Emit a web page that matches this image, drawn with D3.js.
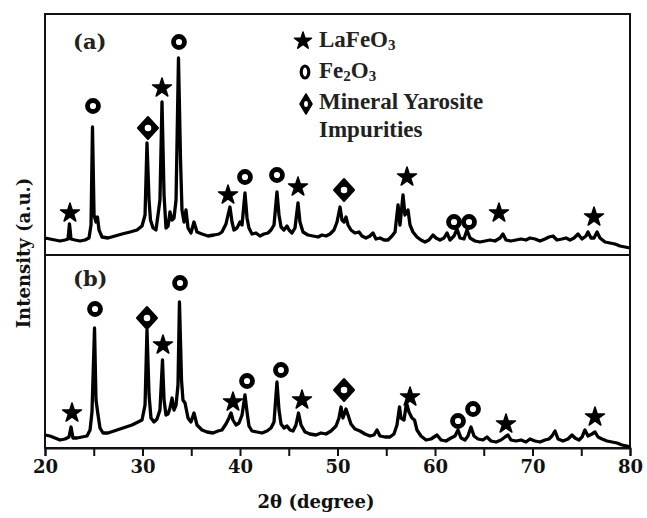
<!DOCTYPE html>
<html>
<head>
<meta charset="utf-8">
<script src="https://cdn.jsdelivr.net/npm/d3@7"></script>
<style>
  body { margin: 0; background: #fff; }
  .tick text { font-family: "DejaVu Serif", serif; font-weight: bold; font-size: 18px; }
</style>
</head>
<body>
<svg class="xrd" width="647" height="518"></svg>
<script>
// 2theta (degree) and intensity (a.u.)
const thetaA = [20.00,20.51,21.03,21.54,22.05,22.36,22.51,22.67,23.08,23.59,24.10,24.51,24.72,24.87,25.03,25.23,25.38,25.54,25.85,26.46,
  27.18,27.90,28.72,29.44,29.95,30.26,30.46,30.67,30.82,31.08,31.38,31.59,31.79,32.00,32.21,32.41,32.62,32.82,33.03,33.23,
  33.44,33.69,33.90,34.05,34.26,34.46,34.67,34.97,35.28,35.59,36.10,36.72,37.33,37.85,38.15,38.56,38.77,38.97,39.18,39.38,
  39.69,40.00,40.21,40.51,40.72,40.92,41.23,41.64,42.05,42.46,42.87,43.18,43.49,43.79,44.00,44.21,44.51,44.82,45.03,45.33,
  45.64,45.95,46.15,46.46,46.97,47.49,48.00,48.41,48.82,49.23,49.64,49.95,50.26,50.46,50.67,50.87,51.08,51.38,51.79,52.21,
  52.51,52.92,53.33,53.64,53.95,54.36,54.77,55.18,55.59,55.90,56.21,56.41,56.72,56.92,57.23,57.44,57.74,58.15,58.56,58.97,
  59.38,59.79,60.10,60.51,60.92,61.23,61.54,61.95,62.26,62.56,62.97,63.28,63.59,64.10,64.62,65.13,65.64,66.15,66.67,66.97,
  67.28,67.79,68.31,68.82,69.33,69.74,70.26,70.77,71.28,71.69,72.10,72.51,73.03,73.44,73.85,74.26,74.67,75.08,75.49,75.69,
  76.00,76.31,76.62,76.92,77.44,77.95,78.46,78.97,79.49,80.00];
const intA = [17,16,15,14,15,16,31,16,15,14,15,17,30,128,40,33,38,25,18,17,
  19,21,23,25,29,40,112,55,35,27,25,40,55,153,60,27,29,43,35,37,
  55,197,95,45,33,45,27,22,33,23,21,19,20,21,23,31,40,48,33,25,
  27,33,30,62,37,27,21,22,19,21,22,25,30,63,40,28,25,29,25,22,
  27,52,33,23,20,19,18,20,19,21,25,33,48,35,33,38,30,25,22,23,
  19,17,19,22,16,17,15,15,19,23,50,30,60,40,45,30,23,18,15,13,
  15,20,17,15,17,22,15,19,26,17,16,25,17,14,13,14,15,14,17,21,
  15,14,15,16,15,17,16,14,16,18,19,15,16,17,15,17,21,16,19,23,
  17,17,23,17,13,12,11,9,8,7];

const thetaB = [20.00,20.51,21.03,21.54,22.05,22.46,22.67,22.87,23.28,23.79,24.31,24.62,24.82,25.08,25.23,25.44,25.64,25.95,26.46,27.08,
  27.69,28.31,28.92,29.54,29.95,30.26,30.46,30.67,30.87,31.18,31.49,31.79,32.05,32.21,32.41,32.62,32.82,33.03,33.23,33.44,
  33.64,33.79,34.00,34.15,34.36,34.67,34.97,35.28,35.59,36.10,36.62,37.23,37.74,38.15,38.56,38.87,39.08,39.28,39.59,39.90,
  40.21,40.51,40.72,40.92,41.23,41.74,42.26,42.77,43.18,43.49,43.79,44.00,44.21,44.51,44.82,45.13,45.44,45.74,46.00,46.26,
  46.67,47.18,47.79,48.31,48.82,49.33,49.85,50.15,50.36,50.56,50.87,51.08,51.38,51.79,52.31,52.82,53.33,53.74,54.05,54.36,
  54.87,55.38,55.79,56.10,56.36,56.51,56.82,57.08,57.33,57.64,57.90,58.15,58.56,59.08,59.59,60.21,60.62,61.13,61.64,62.05,
  62.36,62.67,63.08,63.38,63.69,64.00,64.41,64.92,65.33,65.74,66.26,66.77,67.18,67.49,67.79,68.31,68.82,69.33,69.74,70.26,
  70.77,71.28,71.69,72.00,72.31,72.62,73.13,73.64,74.05,74.36,74.77,75.08,75.38,75.69,76.10,76.41,76.72,77.13,77.64,78.15,
  78.67,79.18,79.69,80.00];
const intB = [15,14,12,10,11,13,23,12,12,13,14,20,38,122,50,35,22,17,17,19,
  21,23,25,28,30,45,120,55,32,28,31,40,90,50,35,36,42,52,40,45,
  65,148,70,50,47,32,28,37,25,20,18,17,19,20,26,32,37,30,25,27,
  35,55,38,24,19,18,17,19,22,28,68,40,26,22,24,20,19,25,37,25,
  18,16,15,17,16,19,24,32,43,32,41,35,26,21,19,16,14,15,20,14,
  13,13,16,25,43,32,30,47,38,32,30,20,14,10,11,15,10,9,12,14,
  20,12,10,14,23,14,11,10,13,9,8,10,13,15,10,9,10,8,11,9,
  8,10,11,14,19,11,9,11,15,12,10,13,20,14,16,18,13,11,9,8,
  7,5,4,3];

// phase markers: s = LaFeO3 (star), o = Fe2O3 (ring), d = mineral yarosite (diamond)
const markTypeA = ["s","o","d","s","o","s","o","o","s","d","s","o","o","s","s"];
const markThetaA = [22.56,24.92,30.56,32.00,33.74,38.77,40.51,43.79,45.95,50.67,57.13,61.95,63.49,66.56,76.31];
const markIntA = [42,149,127,167,213,60,78,80,68,65,78,33,33,42,38];

const markTypeB = ["s","o","d","s","o","s","o","o","s","d","s","o","o","s","s"];
const markThetaB = [22.77,25.13,30.46,32.10,33.85,39.28,40.72,44.20,46.36,50.67,57.44,62.36,63.90,67.28,76.41];
const markIntB = [37,141,132,105,167,48,69,80,50,60,53,29,41,26,33];

const xTicks = [20,25,30,35,40,45,50,55,60,65,70,75,80];
const legendLabels = ["LaFeO3","Fe2O3","Mineral Yarosite","Impurities"];

const svg = d3.select(".xrd");
const pLeft = 45, pRight = 630, pTop = 14, pMid = 255, pBottom = 448;

const x = d3.scaleLinear().domain([20, 80]).range([pLeft, pRight]);
const yA = d3.scaleLinear().domain([0, 241]).range([pMid, pTop]);
const yB = d3.scaleLinear().domain([0, 195]).range([450, pMid]);

// frame + divider
svg.append("rect")
  .attr("x", pLeft).attr("y", pTop)
  .attr("width", pRight - pLeft).attr("height", pBottom - pTop)
  .attr("fill", "none").attr("stroke", "#111").attr("stroke-width", 2);
svg.append("line")
  .attr("x1", pLeft).attr("x2", pRight).attr("y1", pMid).attr("y2", pMid)
  .attr("stroke", "#111").attr("stroke-width", 2);

// x axis
const xAxis = d3.axisBottom(x)
  .tickValues(xTicks)
  .tickSize(8)
  .tickPadding(4)
  .tickFormat(d => d % 10 === 0 ? d : "");
const gx = svg.append("g")
  .attr("transform", `translate(0,${pBottom})`)
  .call(xAxis);
gx.select(".domain").attr("stroke", "#111").attr("stroke-width", 2);
gx.selectAll(".tick line").attr("stroke", "#111").attr("stroke-width", 2);
gx.selectAll(".tick text").attr("fill", "#111");

// axis titles
svg.append("text")
  .attr("x", 316).attr("y", 508)
  .attr("text-anchor", "middle")
  .style("font-family", "DejaVu Serif, serif").style("font-weight", "bold").style("font-size", "18px")
  .attr("fill", "#111")
  .text("2θ (degree)");
svg.append("text")
  .attr("transform", "translate(30,253) rotate(-90)")
  .attr("text-anchor", "middle")
  .style("font-family", "DejaVu Serif, serif").style("font-weight", "bold").style("font-size", "18px")
  .attr("fill", "#111")
  .text("Intensity (a.u.)");

// traces
const drawTrace = (th, iv, yScale) => {
  const pts = th.map((t, i) => [t, iv[i]]);
  svg.append("path")
    .datum(pts)
    .attr("fill", "none")
    .attr("stroke", "#000")
    .attr("stroke-width", 3.3)
    .attr("stroke-linejoin", "round")
    .attr("d", d3.line().x(d => x(d[0])).y(d => yScale(d[1])));
};
drawTrace(thetaA, intA, yA);
drawTrace(thetaB, intB, yB);

// marker glyphs
const star = d3.symbol().type(d3.symbolStar);
const drawMark = (g, type, cx, cy) => {
  if (type === "s") {
    g.append("path")
      .attr("transform", `translate(${cx},${cy})`)
      .attr("d", star.size(112)())
      .attr("fill", "#000").attr("stroke", "#000").attr("stroke-width", 1.5)
      .attr("stroke-linejoin", "round");
  } else if (type === "o") {
    g.append("circle")
      .attr("cx", cx).attr("cy", cy).attr("r", 5.5)
      .attr("fill", "#fff").attr("stroke", "#000").attr("stroke-width", 4.8);
  } else {
    const w = 10, h = 11;
    g.append("path")
      .attr("d", `M${cx},${cy - h}L${cx + w},${cy}L${cx},${cy + h}L${cx - w},${cy}Z`)
      .attr("fill", "#000").attr("stroke", "#000").attr("stroke-width", 2)
      .attr("stroke-linejoin", "round");
    g.append("circle")
      .attr("cx", cx).attr("cy", cy).attr("r", 3.3)
      .attr("fill", "#fff");
  }
};

const marks = svg.append("g");
markTypeA.forEach((t, i) => drawMark(marks, t, x(markThetaA[i]), yA(markIntA[i])));
markTypeB.forEach((t, i) => drawMark(marks, t, x(markThetaB[i]), yB(markIntB[i])));

// panel letters
[["(a)", 49], ["(b)", 286]].forEach(([s, yy]) => {
  svg.append("text")
    .attr("x", 73).attr("y", yy)
    .style("font-family", "DejaVu Serif, serif").style("font-weight", "bold").style("font-size", "21px")
    .attr("fill", "#222")
    .text(s);
});

// legend
const leg = svg.append("g");
leg.append("path")
  .attr("transform", "translate(303,41)")
  .attr("d", star.size(90)())
  .attr("fill", "#000").attr("stroke", "#000").attr("stroke-width", 1.5).attr("stroke-linejoin", "round");
leg.append("ellipse")
  .attr("cx", 305).attr("cy", 72).attr("rx", 3.8).attr("ry", 6)
  .attr("fill", "#fff").attr("stroke", "#000").attr("stroke-width", 3.2);
leg.append("path")
  .attr("d", "M306,94L312,104L306,114L300,104Z")
  .attr("fill", "#000").attr("stroke", "#000").attr("stroke-width", 1.5).attr("stroke-linejoin", "round");
leg.append("ellipse")
  .attr("cx", 306).attr("cy", 104).attr("rx", 2).attr("ry", 3)
  .attr("fill", "#fff");

const legText = (yy) => leg.append("text")
  .attr("x", 319).attr("y", yy)
  .style("font-family", "Liberation Serif, serif").style("font-weight", "bold").style("font-size", "23px")
  .attr("fill", "#222");

const t1 = legText(47);
t1.append("tspan").text("LaFeO");
t1.append("tspan").attr("dy", 3).style("font-size", "15px").text("3");
const t2 = legText(78);
t2.append("tspan").text("Fe");
t2.append("tspan").attr("dy", 3).style("font-size", "15px").text("2");
t2.append("tspan").attr("dy", -3).text("O");
t2.append("tspan").attr("dy", 3).style("font-size", "15px").text("3");
legText(109).text(legendLabels[2]);
legText(137).text(legendLabels[3]);
</script>
</body>
</html>
